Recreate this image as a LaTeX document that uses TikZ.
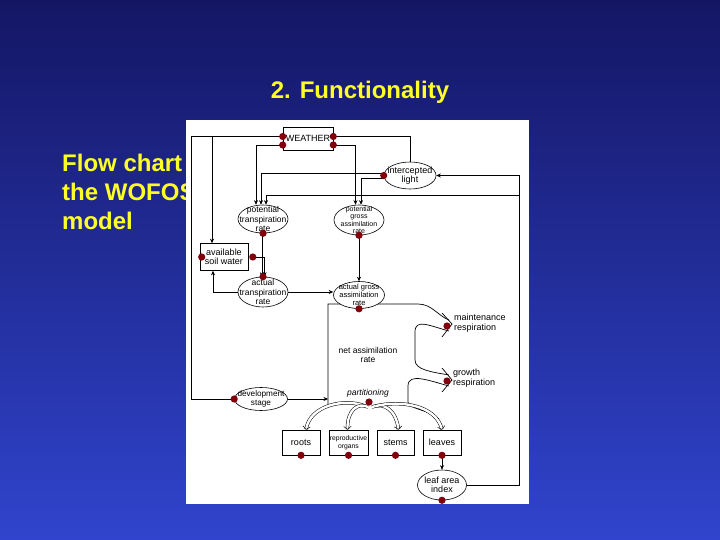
\documentclass[tikz,border=0pt]{standalone}
\usepackage{fontspec}
\setmainfont{Liberation Sans}
\usetikzlibrary{arrows.meta,shapes.geometric}

\definecolor{slidetop}{RGB}{20,22,100}
\definecolor{slidebottom}{RGB}{48,68,205}
\definecolor{titleyellow}{RGB}{255,255,40}
\definecolor{dotred}{RGB}{130,0,12}

\begin{document}
\begin{tikzpicture}[
	x=1pt, y=-1pt,
	headline/.style={text=titleyellow, inner sep=0pt, font=\fontsize{24}{29}\selectfont\bfseries},
	box/.style={
		rectangle,
		draw=black,
		line width=0.6pt,
		fill=white,
		inner sep=0pt,
		align=center,
		font=\fontsize{9}{9.5}\selectfont
	},
	oval/.style={ellipse, draw=black, line width=0.6pt, fill=white, inner sep=0pt},
	ovaltext/.style={align=center, inner sep=0pt, font=\fontsize{8.5}{9.3}\selectfont},
	smalltext/.style={align=center, inner sep=0pt, font=\fontsize{7}{7.6}\selectfont},
	flowtext/.style={align=left, inner sep=0pt, font=\fontsize{9}{10}\selectfont},
	arrow/.style={-{Stealth[length=4.5pt,width=4pt]}, line width=0.6pt},
	link/.style={line width=0.6pt},
	pipe/.style={line width=0.7pt},
	hollow/.style={double=white, double distance=2.4pt, line width=0.5pt, -{Straight Barb[length=3pt,width=7.5pt]}},
	reddot/.style={fill=dotred}
]
\useasboundingbox (0,0) rectangle (720,540);

% Slide background and headings
\shade[top color=slidetop, bottom color=slidebottom] (0,0) rectangle (720,540);
\node[headline] (title) at (360,92) {2. Functionality};
\node[headline, anchor=west, align=left] (subtitle) at (62,192) {Flow chart\\the WOFOS\\model};
\fill[white] (186,120) rectangle (529,504);

% Net assimilation flow (drawn first, nodes cover it)
\draw[pipe] (328,406) -- (328,304) -- (418,304) .. controls (432,304) and (438,316) .. (449,320);
\draw[pipe] (442,313) -- (452,324) -- (442,337);
\draw[pipe] (449,331) .. controls (430,326) and (415,318) .. (415,332) -- (415,360) .. controls (415,370) and (432,372) .. (449,375);
\draw[pipe] (442,368) -- (452,380) -- (442,392);
\draw[pipe] (449,386) .. controls (430,381) and (408,372) .. (408,386) -- (408,402) .. controls (408,409) and (430,410) .. (439,419);

% Nodes
\node[box, minimum width=50pt, minimum height=23pt] (weather) at (308,138.5) {WEATHER};
\node[oval, minimum width=52pt, minimum height=27pt, label={[ovaltext, font=\fontsize{9}{9.5}\selectfont]center:intercepted\\light}] (light) at (410,175.5) {};
\node[oval, minimum width=50pt, minimum height=28pt, label={[ovaltext]center:potential\\transpiration\\rate}] (ptrans) at (263,219) {};
\node[oval, minimum width=50pt, minimum height=30pt, label={[smalltext]center:potential\\gross\\assimilation\\rate}] (pgass) at (359,220) {};
\node[box, minimum width=48pt, minimum height=27pt] (soil) at (224,257) {available\\soil water};
\node[oval, minimum width=50pt, minimum height=30pt, label={[ovaltext]center:actual\\transpiration\\rate}] (atrans) at (263,292) {};
\node[oval, minimum width=51pt, minimum height=27pt, label={[smalltext, font=\fontsize{7.5}{8}\selectfont]center:actual gross\\assimilation\\rate}] (agass) at (359,295) {};
\node[smalltext, font=\fontsize{8.5}{9.5}\selectfont] (netass) at (368,355) {net assimilation\\rate};
\node[flowtext, anchor=west] (maint) at (454,323) {maintenance\\respiration};
\node[flowtext, anchor=west] (growth) at (453,378) {growth\\respiration};
\node[smalltext, font=\fontsize{8.5}{9}\selectfont\itshape] (part) at (368,393) {partitioning};
\node[oval, minimum width=53pt, minimum height=23pt, label={[ovaltext, font=\fontsize{8.2}{9}\selectfont]center:development\\stage}] (dev) at (261,399) {};
\node[box, minimum width=38pt, minimum height=25pt] (roots) at (301,442.5) {roots};
\node[box, minimum width=39pt, minimum height=25pt, font=\fontsize{6.8}{7.5}\selectfont] (repro) at (348.5,442.5) {reproductive\\organs};
\node[box, minimum width=37pt, minimum height=25pt] (stems) at (395.5,442.5) {stems};
\node[box, minimum width=38pt, minimum height=25pt] (leaves) at (442,442.5) {leaves};
\node[oval, minimum width=49pt, minimum height=30pt, label={[ovaltext, font=\fontsize{9}{9.5}\selectfont]center:leaf area\\index}] (lai) at (442,485) {};

% Points on the weather box and the soil water box
\coordinate (wl1) at ([yshift=2pt]weather.west);
\coordinate (wl2) at ([yshift=-6.5pt]weather.west);
\coordinate (wr1) at ([yshift=2pt]weather.east);
\coordinate (wr2) at ([yshift=-6.5pt]weather.east);
\coordinate (sw) at ([xshift=4.5pt]soil.east);
\coordinate (rx) at (519,195);

% Weather links
\draw[link] (wl1) -| ([xshift=-43pt]dev.west) -- (dev.west);
\draw[arrow] ([xshift=-12pt]soil.north |- wl1) -- ([xshift=-12pt]soil.north);
\draw[arrow] (wl2) -| ([xshift=-7pt]ptrans.north);
\draw[arrow] (wr2) -| ([xshift=-3.5pt]pgass.north);
\draw[link] (wr1) -| (light.north);

% Intercepted light and leaf area index
\draw[arrow] ([yshift=2.5pt]light.west) -| ([xshift=-2pt]ptrans.north);
\draw[arrow] ([yshift=-2.5pt]light.west) -| ([xshift=2pt]pgass.north);
\draw[arrow] (lai.east) -| (rx |- light.east) -- (light.east);
\draw[arrow] (rx) -| ([xshift=3pt]ptrans.north);

% Rates
\draw[arrow] ([xshift=-1.2pt]ptrans.south) -- ([xshift=-1.2pt]atrans.north);
\draw[arrow] (sw) -| ([xshift=1.5pt]atrans.north);
\draw[arrow] (atrans.west) -| ([xshift=-11pt]soil.south);
\draw[arrow] (atrans.east) -- (atrans.east -| agass.west);
\draw[arrow] (pgass.south) -- (agass.north);
\draw[arrow] (dev.east) -- (dev.east -| 328,0);
\draw[arrow] (leaves.south) -- (lai.north);

% Partitioning
\draw[hollow] (365,406) .. controls (345,398) and (310,405) .. ([xshift=5pt]roots.north);
\draw[hollow] (368,407) .. controls (358,402) and (347,410) .. ([xshift=-1pt]repro.north);
\draw[hollow] (372,407) .. controls (384,402) and (396,410) .. ([xshift=3pt]stems.north);
\draw[hollow] (376,406) .. controls (400,400) and (436,405) .. (leaves.north);

% Dots
\fill[reddot] (wl1) circle (3.6pt);
\fill[reddot] (wl2) circle (3.6pt);
\fill[reddot] (wr1) circle (3.6pt);
\fill[reddot] (wr2) circle (3.6pt);
\fill[reddot] (light.west) circle (3.6pt);
\fill[reddot] (ptrans.south) circle (3.6pt);
\fill[reddot] (pgass.south) circle (3.6pt);
\fill[reddot] ([xshift=2pt]soil.west) circle (3.6pt);
\fill[reddot] (sw) circle (3.6pt);
\fill[reddot] (atrans.north) circle (3.6pt);
\fill[reddot] (agass.south) circle (3.6pt);
\fill[reddot] (dev.west) circle (3.6pt);
\fill[reddot] (447,326) circle (3.6pt);
\fill[reddot] (447,381) circle (3.6pt);
\fill[reddot] (369,402) circle (3.6pt);
\fill[reddot] (roots.south) circle (3.6pt);
\fill[reddot] (repro.south) circle (3.6pt);
\fill[reddot] (stems.south) circle (3.6pt);
\fill[reddot] (leaves.south) circle (3.6pt);
\fill[reddot] (lai.south) circle (3.6pt);

\end{tikzpicture}
\end{document}
